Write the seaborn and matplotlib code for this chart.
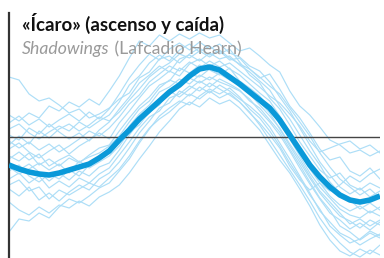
import numpy as np
import pandas as pd
import matplotlib
matplotlib.use('Agg')
import matplotlib.pyplot as plt
import seaborn as sns

# curva media (arco narrativo)
media = [-2.8, -3.2, -3.5, -3.7, -3.8, -3.6, -3.3, -3.0, -2.7, -2.1,
         -1.4, -0.3, 0.7, 1.8, 2.7, 3.6, 4.5, 5.2, 6.1, 6.8,
         7.0, 6.7, 6.0, 5.3, 4.5, 3.7, 2.9, 1.7, 0.2, -1.3,
         -2.8, -4.0, -5.0, -5.8, -6.3, -6.5, -6.3, -5.9]

# relatos individuales
s_a = [6.0, 5.7, 4.3, 3.6, 3.9, 3.2, 2.4, 2.8, 1.9, 2.3, 2.9, 3.8, 4.4, 5.9, 6.5, 7.8, 8.1, 7.4, 8.3, 8.9,
       8.2, 8.6, 7.7, 7.9, 6.8, 5.9, 6.3, 4.8, 3.1, 1.9, 0.4, -1.2, -2.3, -2.0, -3.4, -3.9, -3.1, -4.2]
s_b = [-9.5, -8.2, -8.4, -7.6, -8.1, -7.0, -6.2, -6.6, -5.9, -5.1, -4.6, -3.4, -2.2, -0.6, 0.8, 2.1, 2.9, 3.6, 3.2, 4.1,
       4.8, 4.3, 4.9, 4.0, 2.8, 1.9, 0.6, -0.9, -2.6, -4.1, -5.8, -7.2, -8.9, -9.8, -10.6, -10.2, -9.4, -9.9]
s_c = [2.2, 1.6, 2.4, 1.9, 3.1, 2.6, 3.5, 3.0, 3.8, 3.2, 4.6, 6.1, 7.9, 9.6, 9.1, 10.2, 9.6, 10.3, 9.8, 10.4,
       9.9, 10.2, 9.4, 8.6, 8.9, 8.1, 7.2, 6.5, 4.6, 3.1, 2.2, 1.0, -0.3, -0.8, -1.6, -1.3, -1.9, -1.4]
s_d = [0.8, 1.3, 0.4, -0.2, 0.5, 1.1, 0.6, 1.5, 0.9, 1.6, 2.2, 3.5, 5.2, 6.1, 7.4, 8.2, 7.6, 8.7, 9.3, 8.5,
       9.1, 8.3, 8.8, 7.5, 6.2, 5.4, 3.9, 2.8, 1.2, -0.5, -1.9, -3.3, -4.1, -3.6, -4.8, -5.3, -4.6, -5.1]
s_e = [-1.2, -0.6, -1.5, -2.1, -1.4, -0.8, -1.7, -0.9, -0.3, 0.4, -0.2, 1.4, 2.6, 3.9, 5.1, 5.8, 6.6, 6.1, 7.3, 7.8,
       7.1, 7.6, 6.8, 6.2, 5.3, 4.4, 3.6, 2.1, 0.3, -1.6, -3.2, -4.6, -5.9, -6.8, -7.4, -6.9, -7.6, -7.0]
s_f = [-3.4, -2.8, -3.9, -4.5, -3.7, -4.2, -3.3, -3.9, -2.8, -2.2, -1.5, -0.4, 1.1, 2.3, 3.2, 4.5, 5.0, 5.8, 5.3, 6.2,
       5.7, 6.4, 5.9, 5.1, 4.7, 3.5, 2.4, 0.8, -0.9, -2.5, -4.1, -5.6, -6.8, -7.9, -8.4, -9.1, -8.3, -8.8]
s_g = [-5.2, -5.9, -5.0, -6.3, -5.6, -6.4, -5.5, -4.8, -5.3, -4.2, -3.6, -2.5, -1.1, 0.4, 1.6, 2.9, 3.4, 4.6, 4.1, 5.0,
       4.4, 5.2, 4.6, 3.8, 3.1, 2.2, 1.0, -0.6, -2.2, -3.9, -5.6, -7.4, -8.5, -9.6, -10.1, -10.8, -10.2, -9.7]
s_h = [-0.4, -1.1, -0.5, -1.3, -0.7, -1.5, -0.9, -0.2, 0.6, 0.1, 0.9, 2.0, 3.3, 4.2, 5.5, 6.3, 7.1, 6.6, 7.5, 6.9,
       7.6, 7.0, 7.4, 6.6, 5.8, 5.0, 4.1, 3.4, 2.3, 1.1, -0.4, -1.5, -1.1, -0.7, -0.4, -1.2, -0.8, -1.6]
s_i = [-2.6, -3.3, -2.7, -3.5, -4.4, -3.6, -4.3, -3.4, -3.9, -3.0, -2.6, -1.3, 0.2, 1.5, 2.4, 3.7, 4.3, 5.1, 5.9, 5.4,
       6.0, 5.5, 5.1, 4.6, 3.8, 2.6, 1.5, 0.2, -1.4, -3.1, -4.7, -6.2, -7.6, -8.3, -9.2, -8.6, -9.3, -8.5]
s_j = [1.4, 2.1, 1.2, 1.8, 1.0, 1.7, 2.3, 1.6, 2.5, 1.8, 2.8, 4.3, 5.9, 7.2, 8.3, 7.7, 8.8, 9.4, 8.7, 9.5,
       8.8, 9.3, 8.4, 8.0, 7.1, 6.6, 5.5, 4.0, 2.6, 0.9, -0.8, -2.5, -3.8, -5.0, -5.7, -5.1, -6.0, -5.4]
s_k = [-6.5, -7.3, -7.8, -7.0, -7.6, -6.8, -7.1, -6.4, -6.9, -6.0, -5.5, -4.8, -3.6, -2.2, -0.9, 0.5, 1.6, 2.8, 3.5, 3.0,
       3.9, 3.3, 3.7, 2.9, 1.8, 0.7, -0.8, -2.3, -3.6, -5.2, -6.9, -8.8, -10.3, -11.4, -11.9, -11.2, -11.7, -10.8]
s_l = [-1.9, -2.4, -1.6, -2.8, -2.2, -2.9, -2.1, -2.6, -1.8, -1.1, -0.8, 0.6, 1.9, 3.1, 4.0, 5.2, 5.6, 6.9, 6.4, 7.2,
       6.7, 6.2, 6.9, 5.6, 4.9, 4.1, 2.8, 1.3, -0.2, -1.9, -3.6, -5.0, -6.1, -7.2, -7.8, -8.1, -7.4, -7.9]
s_m = [-4.2, -3.6, -4.6, -3.9, -5.1, -4.4, -5.0, -4.1, -4.6, -3.7, -3.1, -1.8, -0.5, 0.9, 2.0, 2.6, 3.9, 4.3, 5.1, 4.6,
       5.4, 4.8, 4.2, 3.5, 2.4, 1.4, 0.2, -1.1, -2.9, -4.3, -5.3, -4.6, -5.4, -4.8, -3.9, -4.5, -3.7, -3.2]
s_n = [0.2, -0.3, 0.9, 0.3, 1.3, 0.5, -0.2, 0.4, -0.4, 0.7, 1.5, 2.8, 4.0, 5.4, 6.2, 7.1, 6.5, 7.8, 8.2, 7.6,
       8.4, 7.8, 8.1, 7.2, 6.5, 5.6, 4.7, 3.1, 1.8, 0.2, -1.4, -2.8, -4.5, -5.6, -6.3, -7.2, -6.6, -7.3]
s_o = [-3.0, -3.7, -3.2, -2.6, -3.3, -2.7, -3.6, -2.4, -3.1, -2.5, -1.9, -0.9, 0.5, 1.2, 2.5, 3.2, 4.6, 4.0, 4.8, 5.6,
       5.0, 5.8, 5.3, 4.7, 3.6, 2.9, 1.7, 0.5, -1.2, -2.8, -4.5, -6.1, -7.3, -8.9, -9.5, -10.3, -9.6, -10.1]
s_p = [-0.8, 0.1, -0.7, 0.6, -0.1, 0.8, 1.3, 0.6, 1.2, 2.0, 1.6, 2.5, 3.7, 4.8, 6.0, 6.8, 7.4, 8.3, 7.9, 8.6,
       8.0, 8.7, 7.9, 7.3, 6.8, 6.0, 5.1, 4.3, 2.9, 1.5, 0.1, -1.6, -3.0, -4.2, -5.0, -5.8, -5.2, -6.1]
s_q = [-4.8, -4.3, -5.4, -5.0, -6.2, -5.3, -5.8, -5.2, -4.6, -5.0, -4.1, -3.2, -1.9, -0.4, 0.9, 1.8, 2.5, 3.4, 4.3, 3.8,
       4.6, 3.9, 4.4, 3.5, 2.5, 1.2, -0.3, -1.8, -3.3, -4.8, -6.4, -8.1, -9.5, -10.6, -11.5, -12.0, -11.3, -11.8]
s_r = [-2.2, -1.5, -2.3, -1.7, -2.9, -2.3, -1.8, -2.5, -2.0, -1.6, -0.9, 0.1, 1.5, 2.8, 3.6, 4.9, 5.7, 5.3, 6.3, 6.0,
       6.8, 6.3, 5.7, 5.2, 4.3, 3.2, 2.1, 0.9, -0.7, -2.2, -3.9, -5.4, -6.5, -7.6, -8.7, -8.2, -8.9, -8.3]

series = [s_a, s_b, s_c, s_d, s_e, s_f, s_g, s_h, s_i,
          s_j, s_k, s_l, s_m, s_n, s_o, s_p, s_q, s_r]

titulo = '«Ícaro» (ascenso y caída)'
sub_cursiva = 'Shadowings'
sub_resto = ' (Lafcadio Hearn)'

# tabla larga para seaborn
pos = np.arange(len(media))
df = pd.DataFrame([(n, x, v) for n, s in enumerate(series) for x, v in zip(pos, s)],
                  columns=['relato', 'pos', 'valor'])
df_media = pd.DataFrame({'pos': pos, 'valor': media})

sns.set_style('white')
plt.rcParams['font.family'] = ['Lato', 'DejaVu Sans']

fig = plt.figure(figsize=(3.84, 2.58), dpi=100)
ax = fig.add_axes([9 / 384, 0, 371 / 384, 245 / 258])

sns.lineplot(data=df, x='pos', y='valor', units='relato', estimator=None,
             color='#addef7', lw=0.85, ax=ax, zorder=1)
ax.axhline(0, color='#444444', lw=1.0, zorder=2)
sns.lineplot(data=df_media, x='pos', y='valor', color='#0a99d9', lw=4.0,
             ax=ax, zorder=3, solid_capstyle='butt')

ax.set_xlim(0, len(media) - 1)
ax.set_ylim(-12.1, 12.4)
ax.set_xticks([])
ax.set_yticks([])
ax.set_xlabel('')
ax.set_ylabel('')
for lado in ['top', 'right', 'bottom']:
    ax.spines[lado].set_visible(False)
ax.spines['left'].set_color('#333333')
ax.spines['left'].set_linewidth(1.6)

fig.text(22 / 384, 1 - 31 / 258, titulo, fontsize=13.4, fontweight='bold',
         color='#111111', ha='left', va='baseline')
t1 = fig.text(22 / 384, 1 - 54 / 258, sub_cursiva, fontsize=12.7, style='italic',
              color='#9a9a9a', ha='left', va='baseline')
fig.canvas.draw()
bb = t1.get_window_extent()
fig.text(bb.x1 / fig.bbox.width, 1 - 54 / 258, sub_resto, fontsize=12.7,
         color='#9a9a9a', ha='left', va='baseline')

fig.savefig('out.png', dpi=100)
